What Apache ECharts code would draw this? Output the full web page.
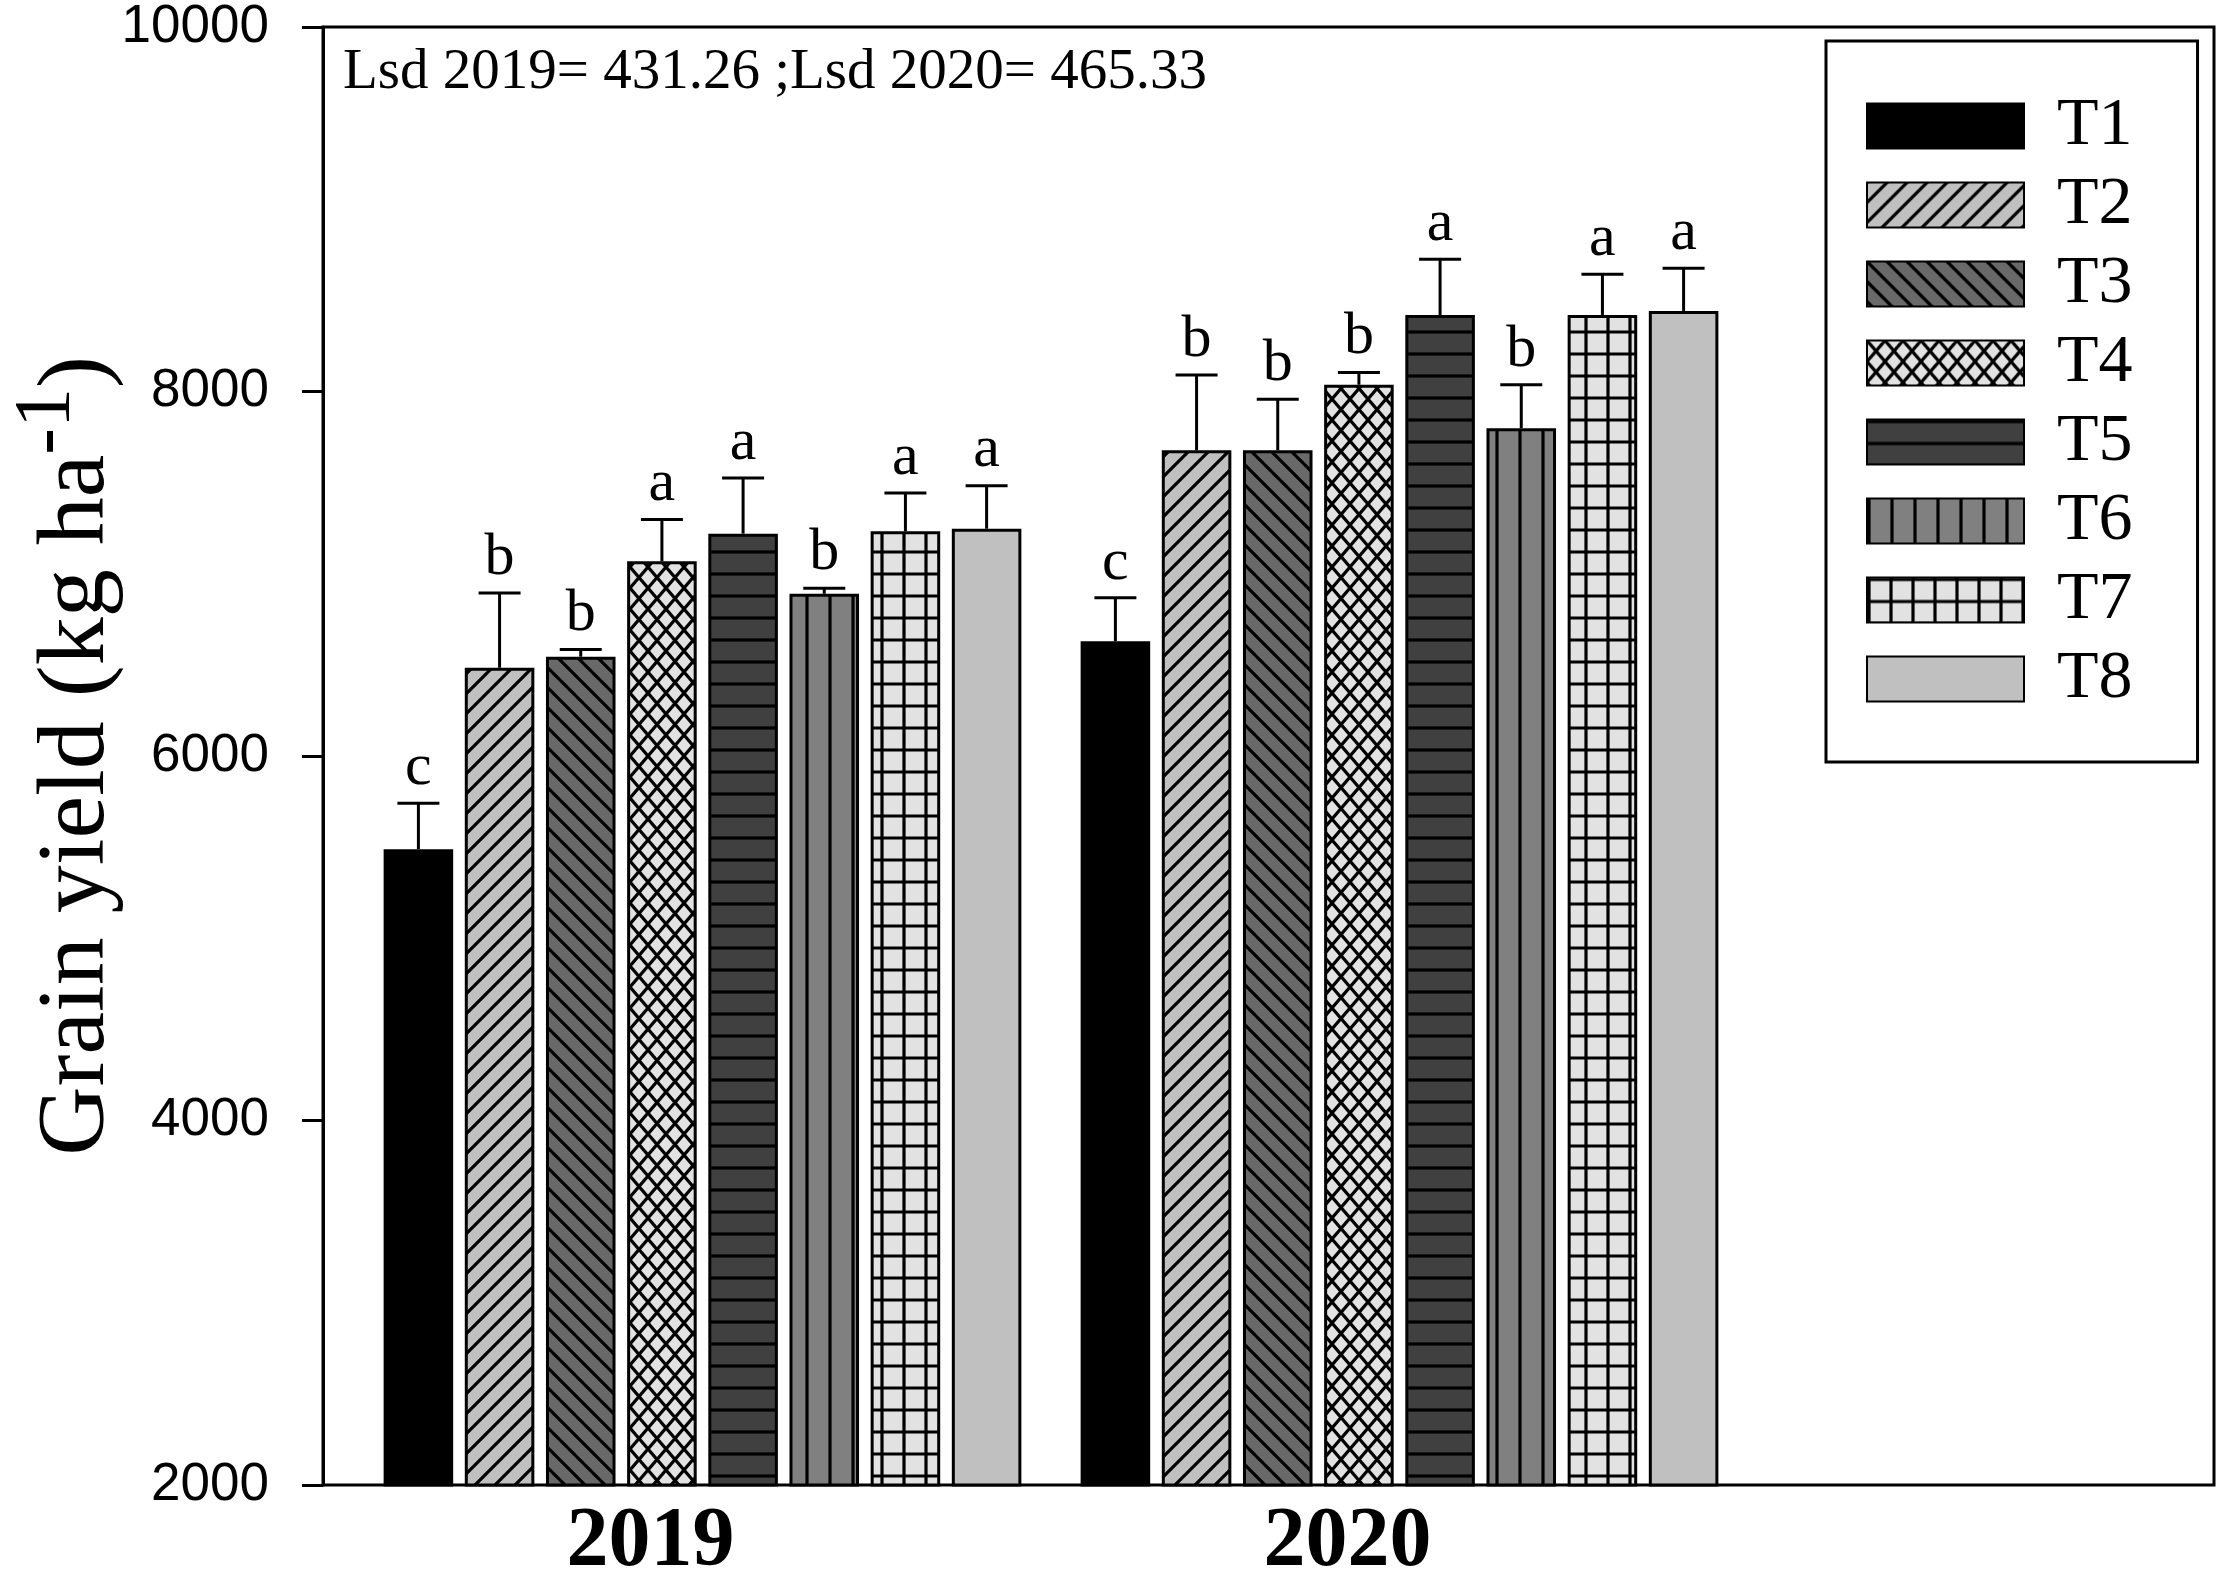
<!DOCTYPE html>
<html>
<head>
<meta charset="utf-8">
<title>Grain yield</title>
<script src="https://cdn.jsdelivr.net/npm/echarts@6/dist/echarts.min.js"></script>
<style>
  html, body { margin: 0; padding: 0; background: #fff; }
  #chart { width: 2228px; height: 1575px; }
</style>
</head>
<body>
<div id="chart"></div>
<script>
// data
const years = ['2019', '2020'];
const treatments = ['T1', 'T2', 'T3', 'T4', 'T5', 'T6', 'T7', 'T8'];
const yield2019 = [5489, 6484, 6545, 7068, 7220, 6890, 7233, 7247];
const yield2020 = [6630, 7677, 7677, 8037, 8420, 7799, 8420, 8442];
const err2019 = [252, 411, 40, 229, 305, 31, 210, 236];
const err2020 = [238, 414, 281, 67, 305, 238, 223, 234];
const letters2019 = ['c', 'b', 'b', 'a', 'a', 'b', 'a', 'a'];
const letters2020 = ['c', 'b', 'b', 'b', 'a', 'b', 'a', 'a'];
const lsdValues = [431.26, 465.33];
const yTicks = { min: 2000, max: 10000, step: 2000 };

const SERIF = '"Liberation Serif", "Times New Roman", serif';
const SANS = '"Liberation Sans", Arial, sans-serif';
const CAT_GAP = 0.085;
const BAR_GAP = 0.167;

// canvas hatch patterns, SigmaPlot style
function makePattern(bg, w, h, draw) {
    const c = document.createElement('canvas');
    c.width = w;
    c.height = h;
    const ctx = c.getContext('2d');
    ctx.fillStyle = bg;
    ctx.fillRect(0, 0, w, h);
    ctx.strokeStyle = '#000';
    ctx.lineWidth = 3.2;
    ctx.beginPath();
    draw(ctx, w, h);
    ctx.stroke();
    return { image: c, repeat: 'repeat' };
}

// diagonal line through (x0, 0) with slope dir*h/w, drawn long enough to cross the tile
function diag(ctx, w, h, dir) {
    [-w, 0, w].forEach(off => {
        if (dir > 0) {
            ctx.moveTo(off - w, -h); ctx.lineTo(off + 2 * w, 2 * h);
        } else {
            ctx.moveTo(off - w, 2 * h); ctx.lineTo(off + 2 * w, -h);
        }
    });
}

const fills = [
    '#000000',
    makePattern('#c0c0c0', 20, 20, (ctx, w, h) => diag(ctx, w, h, -1)),
    makePattern('#696969', 20, 20, (ctx, w, h) => diag(ctx, w, h, 1)),
    makePattern('#e2e2e2', 18, 21, (ctx, w, h) => { diag(ctx, w, h, 1); diag(ctx, w, h, -1); }),
    makePattern('#404040', 22, 22, (ctx, w, h) => {
        ctx.moveTo(0, 2); ctx.lineTo(w, 2);
    }),
    makePattern('#808080', 23, 22, (ctx, w, h) => {
        ctx.moveTo(2, 0); ctx.lineTo(2, h);
    }),
    makePattern('#e2e2e2', 22, 22, (ctx, w, h) => {
        ctx.moveTo(0, 2); ctx.lineTo(w, 2);
        ctx.moveTo(2, 0); ctx.lineTo(2, h);
    }),
    '#c0c0c0'
];

const barSeries = treatments.map((name, i) => ({
    name: name,
    type: 'bar',
    xAxisIndex: 1,
    yAxisIndex: 1,
    data: [yield2019[i], yield2020[i]],
    barCategoryGap: (CAT_GAP * 100) + '%',
    barGap: (BAR_GAP * 100) + '%',
    itemStyle: { color: fills[i], borderColor: '#000', borderWidth: 3 },
    z: 3
}));

// error bars + significance letters
const errData = [];
treatments.forEach((t, i) => {
    errData.push([0, yield2019[i], err2019[i], i, letters2019[i]]);
    errData.push([1, yield2020[i], err2020[i], i, letters2020[i]]);
});

const errSeries = {
    type: 'custom',
    xAxisIndex: 1,
    yAxisIndex: 1,
    data: errData,
    z: 4,
    renderItem: function (params, api) {
        const cat = api.value(0);
        const val = api.value(1);
        const err = api.value(2);
        const ti = api.value(3);
        const letter = errData[params.dataIndex][4];
        const n = treatments.length;
        const band = api.size([1, 0])[0];
        const used = band * (1 - CAT_GAP);
        const bw = used / (n + (n - 1) * BAR_GAP);
        const base = api.coord([cat, val]);
        const cx = base[0] - used / 2 + ti * bw * (1 + BAR_GAP) + bw / 2;
        const yTop = api.coord([cat, val + err])[1];
        const cap = 21;
        const lineStyle = { stroke: '#000', lineWidth: 3 };
        return {
            type: 'group',
            children: [
                { type: 'line', shape: { x1: cx, y1: base[1], x2: cx, y2: yTop }, style: lineStyle },
                { type: 'line', shape: { x1: cx - cap, y1: yTop, x2: cx + cap, y2: yTop }, style: lineStyle },
                {
                    type: 'text',
                    style: {
                        text: letter, x: cx, y: yTop - 5,
                        align: 'center', verticalAlign: 'bottom',
                        textAlign: 'center', textVerticalAlign: 'bottom',
                        font: '60px ' + SERIF, fill: '#000'
                    }
                }
            ]
        };
    }
};

const chart = echarts.init(document.getElementById('chart'));

chart.setOption({
    animation: false,
    backgroundColor: '#fff',
    title: {
        text: 'Lsd ' + years[0] + '= ' + lsdValues[0] + ' ;Lsd ' + years[1] + '= ' + lsdValues[1],
        left: 343,
        top: 45,
        padding: 0,
        textStyle: { fontFamily: SERIF, fontSize: 57, fontWeight: 'normal', color: '#000' }
    },
    legend: {
        data: treatments,
        orient: 'vertical',
        left: 1826,
        top: 41,
        padding: [51, 65, 49, 40],
        borderColor: '#000',
        borderWidth: 3,
        icon: 'rect',
        itemWidth: 157,
        itemHeight: 45,
        itemGap: 11,
        selectedMode: false,
        textStyle: {
            fontFamily: SERIF, fontSize: 68, color: '#000',
            padding: [0, 0, 0, 28]
        }
    },
    grid: [
        {
            left: 323, right: 14, top: 27, bottom: 90, outerBoundsMode: 'none',
            show: true, borderColor: '#000', borderWidth: 3, backgroundColor: 'transparent'
        },
        { left: 354, right: 480, top: 27, bottom: 90, outerBoundsMode: 'none' }
    ],
    xAxis: [
        { gridIndex: 0, type: 'value', min: 0, max: 1, show: false },
        {
            gridIndex: 1,
            type: 'category',
            data: years,
            axisLine: { show: false },
            axisTick: { show: false },
            axisLabel: {
                margin: 16,
                padding: [0, 104, 0, 0],
                fontFamily: SERIF, fontSize: 84, fontWeight: 'bold', color: '#000'
            }
        }
    ],
    yAxis: [
        {
            gridIndex: 0,
            type: 'value',
            min: yTicks.min,
            max: yTicks.max,
            interval: yTicks.step,
            name: '{n|Grain yield (kg ha}{s|-1}{n|)}',
            nameLocation: 'middle',
            nameGap: 175,
            nameMoveOverlap: false,
            nameTextStyle: {
                rich: {
                    n: { fontFamily: SERIF, fontSize: 96, lineHeight: 140, color: '#000', verticalAlign: 'middle' },
                    s: { fontFamily: SERIF, fontSize: 80, lineHeight: 80, color: '#000', verticalAlign: 'top' }
                }
            },
            axisLine: { show: true, lineStyle: { color: '#000', width: 3 } },
            axisTick: { show: true, length: 21, lineStyle: { color: '#000', width: 3 } },
            axisLabel: {
                margin: 54, fontFamily: SANS, fontSize: 53, color: '#000',
                formatter: v => String(v)
            },
            splitLine: { show: false }
        },
        {
            gridIndex: 1,
            type: 'value',
            min: yTicks.min,
            max: yTicks.max,
            interval: yTicks.step,
            show: false
        }
    ],
    series: barSeries.concat([errSeries])
});
</script>
</body>
</html>
